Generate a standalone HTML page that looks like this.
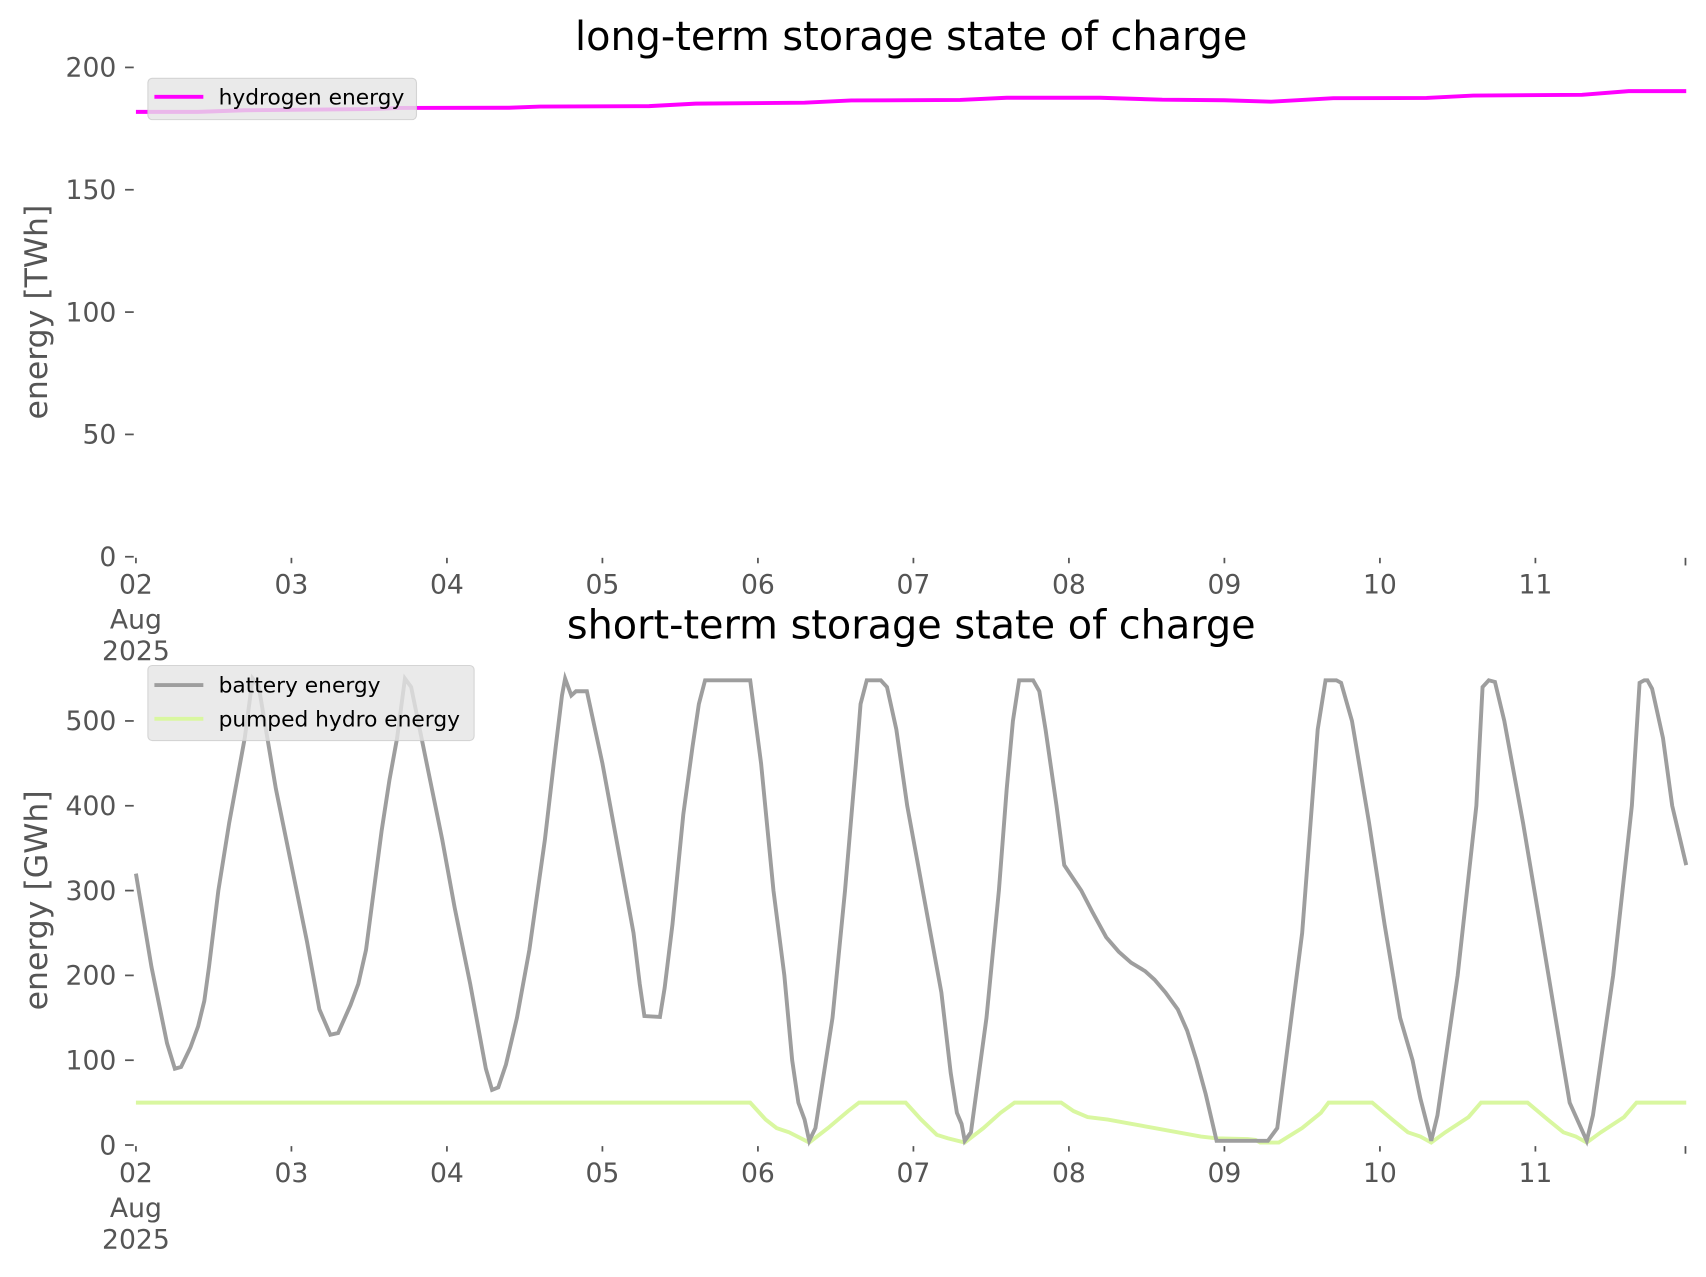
<!DOCTYPE html>
<html><head><meta charset="utf-8"><style>html,body{margin:0;padding:0;background:#fff}svg{display:block}</style></head>
<body>
<svg id="s" width="1706" height="1277" viewBox="0 0 1706 1277" xmlns="http://www.w3.org/2000/svg" font-family="DejaVu Sans, Liberation Sans, sans-serif">
<g id="g" transform="scale(1.0874)">
<text x="838" y="46" font-size="36.6" text-anchor="middle" fill="#000">long-term storage state of charge</text>
<text x="838" y="587" font-size="36.6" text-anchor="middle" fill="#000">short-term storage state of charge</text>
<text transform="translate(43,287) rotate(-90)" font-size="29" text-anchor="middle" fill="#555">energy [TWh]</text>
<text transform="translate(43,828) rotate(-90)" font-size="29" text-anchor="middle" fill="#555">energy [GWh]</text>
<g id="ticks" fill="#555" font-size="24.5" stroke="#555" stroke-width="1.6"></g>
<polyline id="h2" fill="none" stroke="#ff00ff" stroke-width="3.6"/>
<polyline id="ph" fill="none" stroke="#d9f7a0" stroke-width="3.6"/>
<polyline id="bat" fill="none" stroke="#9e9e9e" stroke-width="3.6"/>
<rect x="136" y="72" width="247" height="38" rx="4" fill="rgba(229,229,229,0.8)" stroke="rgba(204,204,204,0.8)" stroke-width="1"/>
<line x1="142" y1="89" x2="187" y2="89" stroke="#ff00ff" stroke-width="3.6"/>
<text x="201" y="96" font-size="20" fill="#000">hydrogen energy</text>
<rect x="136" y="612" width="300" height="69" rx="4" fill="rgba(229,229,229,0.8)" stroke="rgba(204,204,204,0.8)" stroke-width="1"/>
<line x1="142" y1="630" x2="187" y2="630" stroke="#9e9e9e" stroke-width="3.6"/>
<text x="201" y="637" font-size="20" fill="#000">battery energy</text>
<line x1="142" y1="661" x2="187" y2="661" stroke="#d9f7a0" stroke-width="3.6"/>
<text x="201" y="668" font-size="20" fill="#000">pumped hydro energy</text>
</g>
</svg>
<script>
var X0=125,DW=143,XE=1550;
function X(d){return X0+d*DW;}
function ty(v){return 512-v*2.25;}
function by(v){return 1053-v*0.78;}
var ns="http://www.w3.org/2000/svg",T=document.getElementById('ticks');
function el(n,a,t){var e=document.createElementNS(ns,n);for(var k in a)e.setAttribute(k,a[k]);if(t!=null)e.textContent=t;T.appendChild(e);}
function axis(yf,vals,y0,lab){
 vals.forEach(function(v){var y=yf(v);el('line',{x1:115,y1:y,x2:123,y2:y});el('text',{x:107,y:y+8.5,'text-anchor':'end',stroke:'none'},String(v));});
 for(var i=0;i<10;i++){var x=X(i);el('line',{x1:x,y1:y0+1,x2:x,y2:y0+6});el('text',{x:x,y:y0+34,'text-anchor':'middle',stroke:'none'},String(i+2).padStart(2,'0'));}
 el('line',{x1:XE,y1:y0+1,x2:XE,y2:y0+8});
 el('text',{x:X(0),y:y0+66,'text-anchor':'middle',stroke:'none'},'Aug');
 el('text',{x:X(0),y:y0+95,'text-anchor':'middle',stroke:'none'},'2025');
}
axis(ty,[0,50,100,150,200],512);
axis(by,[0,100,200,300,400,500],1053);
function pts(a,yf){var s=[];for(var i=0;i<a.length;i+=2)s.push(X(a[i]).toFixed(1)+','+yf(a[i+1]).toFixed(1));return s.join(' ');}
var h2=[0,181.8,0.4,181.8,0.7,182.5,1.5,183,1.7,183.4,2.4,183.5,2.6,184,3.3,184.2,3.6,185.2,4.3,185.6,4.6,186.5,5.3,186.7,5.6,187.6,6.2,187.6,6.6,186.8,7.0,186.6,7.3,186,7.7,187.4,8.3,187.5,8.6,188.5,9.3,188.8,9.6,190.3,9.97,190.3];
var bat=[0,320,0.1,210,0.2,120,0.25,90,0.29,92,0.35,115,0.4,140,0.44,170,0.47,210,0.53,300,0.6,380,0.7,480,0.75,550,0.79,540,0.9,420,1.0,330,1.1,240,1.18,160,1.25,130,1.3,132,1.38,165,1.43,190,1.48,230,1.58,370,1.63,430,1.68,480,1.73,550,1.77,540,1.87,450,1.97,360,2.05,280,2.15,190,2.25,90,2.29,65,2.33,68,2.38,95,2.45,150,2.53,230,2.63,360,2.7,470,2.74,530,2.76,550,2.8,530,2.83,535,2.9,535,3.0,450,3.12,330,3.2,250,3.24,190,3.27,152,3.37,151,3.4,185,3.45,260,3.52,390,3.58,470,3.62,520,3.66,548,3.95,548,4.02,450,4.1,300,4.17,200,4.22,100,4.26,50,4.3,30,4.33,5,4.37,20,4.48,150,4.56,300,4.63,450,4.66,520,4.7,548,4.79,548,4.83,540,4.89,490,4.96,400,5.03,330,5.11,250,5.18,180,5.24,85,5.28,38,5.31,25,5.33,5,5.37,15,5.47,150,5.55,300,5.6,420,5.64,500,5.68,548,5.77,548,5.81,535,5.85,490,5.92,400,5.97,330,6.08,300,6.15,275,6.24,245,6.32,228,6.4,215,6.49,205,6.55,195,6.62,180,6.7,160,6.76,135,6.82,100,6.88,60,6.95,5,7.2,5,7.28,5,7.34,20,7.5,250,7.6,490,7.65,548,7.72,548,7.75,545,7.82,500,7.93,380,8.03,260,8.13,150,8.21,100,8.26,55,8.33,5,8.37,35,8.5,200,8.62,400,8.66,540,8.7,548,8.74,546,8.8,500,8.92,380,9.03,260,9.12,160,9.17,105,9.22,50,9.33,5,9.37,35,9.5,200,9.62,400,9.67,545,9.7,548,9.72,548,9.75,538,9.82,480,9.88,400,9.97,330];
var ph=[0,50,3.95,50,4.05,30,4.12,20,4.2,15,4.33,3,4.45,20,4.58,40,4.65,50,4.95,50,5.05,30,5.15,12,5.22,8,5.33,3,5.45,20,5.56,38,5.65,50,5.95,50,6.03,40,6.12,33,6.25,30,6.4,25,6.55,20,6.7,15,6.85,10,6.95,8,7.15,7,7.2,6,7.23,3,7.35,3,7.5,20,7.62,38,7.67,50,7.95,50,8.08,30,8.18,15,8.26,10,8.33,3,8.42,15,8.57,33,8.65,50,8.95,50,9.08,30,9.18,15,9.26,10,9.33,3,9.42,15,9.57,33,9.65,50,9.97,50];
document.getElementById('h2').setAttribute('points',pts(h2,ty));
document.getElementById('bat').setAttribute('points',pts(bat,by));
document.getElementById('ph').setAttribute('points',pts(ph,by));
</script>
</body></html>
